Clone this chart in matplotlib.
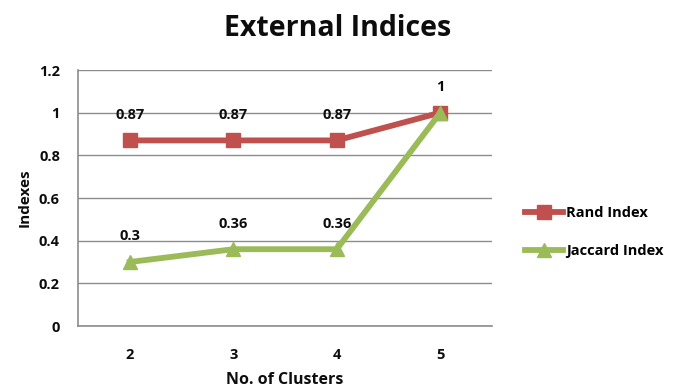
import matplotlib
matplotlib.use("Agg")
import matplotlib.pyplot as plt

clusters = ["2", "3", "4", "5"]
rand_index = [0.87, 0.87, 0.87, 1.0]
jaccard_index = [0.3, 0.36, 0.36, 1.0]
rand_labels = ["0.87", "0.87", "0.87", "1"]
jaccard_labels = ["0.3", "0.36", "0.36", ""]
y_ticks = [0, 0.2, 0.4, 0.6, 0.8, 1.0, 1.2]
y_tick_labels = ["0", "0.2", "0.4", "0.6", "0.8", "1", "1.2"]

plt.rcParams['font.family'] = ['Open Sans', 'DejaVu Sans']

fig = plt.figure(figsize=(6.76, 3.9), dpi=100)
ax = fig.add_axes([78 / 676, 1 - 326 / 390, 414 / 676, 256 / 390])

red = "#C0504D"
green = "#9BBB59"
text_col = "#0d0d0d"
x = list(range(len(clusters)))

ax.plot(x, rand_index, color=red, lw=4.2, marker="s", ms=10.5, label="Rand Index", zorder=3)
ax.plot(x, jaccard_index, color=green, lw=4.2, marker="^", ms=10, label="Jaccard Index", zorder=4)

for xi, v, t in zip(x, rand_index, rand_labels):
    ax.annotate(t, (xi, v), xytext=(0, 18.5), textcoords="offset points",
                ha="center", va="center", fontsize=10.5, fontweight="bold", color=text_col)
for xi, v, t in zip(x, jaccard_index, jaccard_labels):
    if t:
        ax.annotate(t, (xi, v), xytext=(0, 18.5), textcoords="offset points",
                    ha="center", va="center", fontsize=10.5, fontweight="bold", color=text_col)

ax.set_xlim(-0.5, len(clusters) - 0.5)
ax.set_ylim(0, 1.2)
ax.set_yticks(y_ticks)
ax.set_yticklabels(y_tick_labels)
ax.set_xticks(x)
ax.set_xticklabels(clusters)
ax.tick_params(axis="both", length=0, labelsize=10.5, colors=text_col)
ax.tick_params(axis="y", pad=13)
ax.tick_params(axis="x", pad=16)
for lab in ax.get_xticklabels() + ax.get_yticklabels():
    lab.set_fontweight("bold")

ax.grid(axis="y", color="#8c8c8c", lw=1.0)
ax.set_axisbelow(True)
for s in ["top", "right"]:
    ax.spines[s].set_visible(False)
ax.spines["left"].set_color("#8c8c8c")
ax.spines["bottom"].set_color("#8c8c8c")
ax.spines["left"].set_linewidth(1.2)
ax.spines["bottom"].set_linewidth(1.2)

ax.set_xlabel("No. of Clusters", fontsize=11.5, fontweight="bold", labelpad=7, color=text_col)
ax.set_ylabel("Indexes", fontsize=11, fontweight="bold", labelpad=5, color=text_col)

fig.text(338 / 676, 1 - 29 / 390, "External Indices", ha="center", va="center",
         fontsize=20.5, fontweight="bold", color=text_col)

fig.legend(loc="center left", bbox_to_anchor=(512 / 676, 1 - 232 / 390), frameon=False,
           handlelength=2.6, labelspacing=1.6, handletextpad=0.2,
           prop={"weight": "bold", "size": 10.5})

fig.savefig("out.png", dpi=100)
